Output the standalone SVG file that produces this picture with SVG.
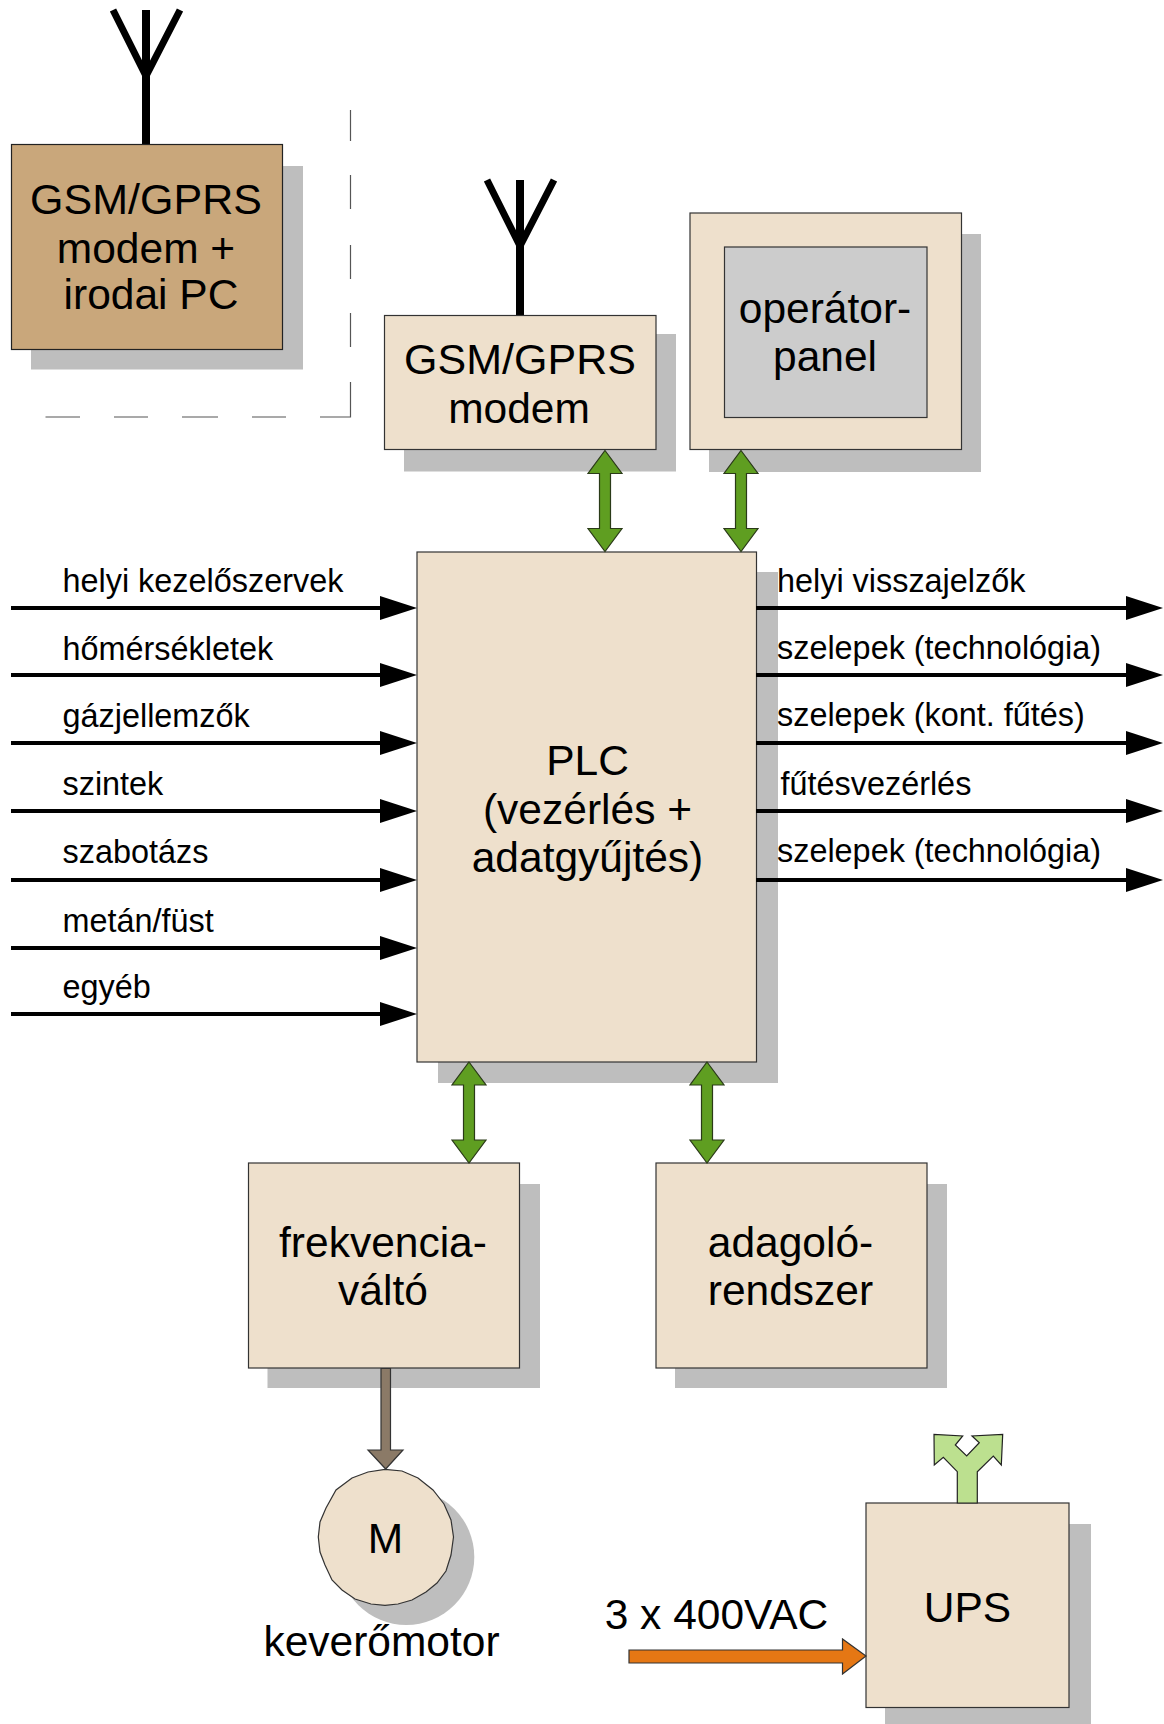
<svg xmlns="http://www.w3.org/2000/svg" width="1164" height="1724" viewBox="0 0 1164 1724">
<style>
text{font-family:"Liberation Sans",Arial,sans-serif;fill:#000}
.big{font-size:42.5px;text-anchor:middle}
.gsm{font-size:43px}
.lab{font-size:32.4px}
.sh{fill:#bebebe}
.box{fill:#eee0cc;stroke:#333;stroke-width:1.2}
.wire{stroke:#000;stroke-width:4;fill:none}
.ant{stroke:#000;fill:none}
.dbl{fill:#5f9e21;stroke:#2a3a18;stroke-width:1.2}
</style>
<defs>
<marker id="ah" markerUnits="userSpaceOnUse" markerWidth="38" markerHeight="26" refX="2" refY="13" orient="auto"><path d="M0 1L37 13L0 25Z" fill="#000"/></marker>
<path id="dbl" d="M0 0L17 23H5.500V78H17L0 101L-17 78H-5.500V23H-17Z"/>
</defs>
<g id="shadows">
<rect class="sh" x="31" y="166" width="272" height="203.500"/>
<rect class="sh" x="404" y="334" width="272" height="137.500"/>
<rect class="sh" x="709" y="234" width="272" height="238"/>
<rect class="sh" x="438" y="572" width="340" height="511"/>
<rect class="sh" x="267.500" y="1184" width="272.500" height="204"/>
<rect class="sh" x="675" y="1184" width="272" height="204"/>
<rect class="sh" x="885" y="1524" width="206" height="204"/>
<circle class="sh" cx="406.300" cy="1557" r="68"/>
</g>
<g id="boundary"><path d="M350.500 110V141M350.500 175V209M350.500 245V279M350.500 313V347M350.500 382V417H320M286 417H252M218 417H182M148 417H114M80 417H45.500" fill="none" stroke="#555" stroke-width="1.200"/></g>
<g id="node-office">
<path class="ant" stroke-width="7" d="M113 10L146 76L180 10"/>
<path class="ant" stroke-width="8" d="M146 10V144"/>
<rect x="11.500" y="144.500" width="271" height="205" fill="#c9a77b" stroke="#222" stroke-width="1.200"/>
<text class="big"><tspan class="gsm" x="146" y="214">GSM/GPRS</tspan><tspan x="146" y="263">modem +</tspan><tspan x="151" y="309">irodai PC</tspan></text>
</g>
<g id="node-modem">
<path class="ant" stroke-width="7" d="M487 180L520 246L554 180"/>
<path class="ant" stroke-width="8" d="M520 180V315"/>
<rect class="box" x="384.500" y="315.500" width="271.500" height="134"/>
<text class="big"><tspan class="gsm" x="520" y="374">GSM/GPRS</tspan><tspan x="519" y="423">modem</tspan></text>
</g>
<g id="node-panel">
<rect class="box" x="690" y="213" width="271.500" height="236.500"/>
<rect x="724.500" y="247" width="202.500" height="170.500" fill="#ccc" stroke="#333" stroke-width="1.200"/>
<text class="big"><tspan x="825" y="323">operátor-</tspan><tspan x="825" y="371">panel</tspan></text>
</g>
<g id="node-plc">
<rect class="box" x="417" y="552" width="339.500" height="510"/>
<text class="big"><tspan x="587.500" y="775">PLC</tspan><tspan x="587.500" y="824">(vezérlés +</tspan><tspan x="587.500" y="872">adatgyűjtés)</tspan></text>
</g>
<g id="node-vfd">
<rect class="box" x="248.500" y="1163" width="271" height="205"/>
<text class="big"><tspan x="383" y="1257">frekvencia-</tspan><tspan x="383" y="1305">váltó</tspan></text>
</g>
<g id="node-feeder">
<rect class="box" x="656" y="1163" width="271" height="205"/>
<text class="big"><tspan x="790.500" y="1257">adagoló-</tspan><tspan x="790.500" y="1305">rendszer</tspan></text>
</g>
<g id="node-motor">
<polygon class="box" points="453.500,1537 451,1555 446,1571 437,1583 426,1592 412,1600 398,1604 385,1605.300 371,1604 355,1599 342,1590 332,1580 325,1565 320,1552 318.300,1537 320,1522 326,1508 336,1490 352,1478 368,1472 385,1469.300 402,1471 418,1478 433,1490 444,1504 451,1520"/>
<text class="big" x="385.500" y="1552.500">M</text>
<text class="big" x="381.500" y="1656">keverőmotor</text>
</g>
<g id="node-ups">
<rect class="box" x="866" y="1503" width="203" height="204.500"/>
<text class="big" x="967.500" y="1622">UPS</text>
</g>
<g id="connectors">
<path class="wire" marker-end="url(#ah)" d="M11 608H382"/>
<path class="wire" marker-end="url(#ah)" d="M11 675H382"/>
<path class="wire" marker-end="url(#ah)" d="M11 743H382"/>
<path class="wire" marker-end="url(#ah)" d="M11 811H382"/>
<path class="wire" marker-end="url(#ah)" d="M11 880H382"/>
<path class="wire" marker-end="url(#ah)" d="M11 948H382"/>
<path class="wire" marker-end="url(#ah)" d="M11 1014H382"/>
<path class="wire" marker-end="url(#ah)" d="M756 608H1128"/>
<path class="wire" marker-end="url(#ah)" d="M756 675H1128"/>
<path class="wire" marker-end="url(#ah)" d="M756 743H1128"/>
<path class="wire" marker-end="url(#ah)" d="M756 811H1128"/>
<path class="wire" marker-end="url(#ah)" d="M756 880H1128"/>
<use href="#dbl" class="dbl" x="605" y="450.500"/>
<use href="#dbl" class="dbl" x="741" y="450.500"/>
<use href="#dbl" class="dbl" x="469" y="1062"/>
<use href="#dbl" class="dbl" x="707" y="1062"/>
<path d="M381 1368.500V1450H368L385.700 1469L403 1450H390.500V1368.500Z" fill="#8b7a67" stroke="#333" stroke-width="1.200"/>
<path d="M629 1650H842.500V1639L866 1656L842.500 1674V1663H629Z" fill="#e57714" stroke="#333" stroke-width="1.200"/>
<path d="M957.300 1503V1471.700L943.300 1457.300L934.300 1465L934 1434.300L962.700 1436L955.300 1445L966.700 1456L979.300 1442.700L972 1436L1002.700 1434.300L1001.300 1465L993.300 1456L977.300 1471.700V1503Z" fill="#bce08f" stroke="#222" stroke-width="1.200"/>
</g>
<g id="labels">
<text class="lab" x="62.500" y="591.500">helyi kezelőszervek</text>
<text class="lab" x="62.500" y="659.500">hőmérsékletek</text>
<text class="lab" x="62.500" y="726.500">gázjellemzők</text>
<text class="lab" x="62.500" y="795">szintek</text>
<text class="lab" x="62.500" y="862.500">szabotázs</text>
<text class="lab" x="62.500" y="931.500">metán/füst</text>
<text class="lab" x="62.500" y="997.500">egyéb</text>
<text class="lab" x="777" y="591.500">helyi visszajelzők</text>
<text class="lab" x="777" y="659">szelepek (technológia)</text>
<text class="lab" x="777" y="726">szelepek (kont. fűtés)</text>
<text class="lab" x="780.500" y="795">fűtésvezérlés</text>
<text class="lab" x="777" y="861.500">szelepek (technológia)</text>
<text class="big" x="716.500" y="1629">3 x 400VAC</text>
</g>
</svg>
